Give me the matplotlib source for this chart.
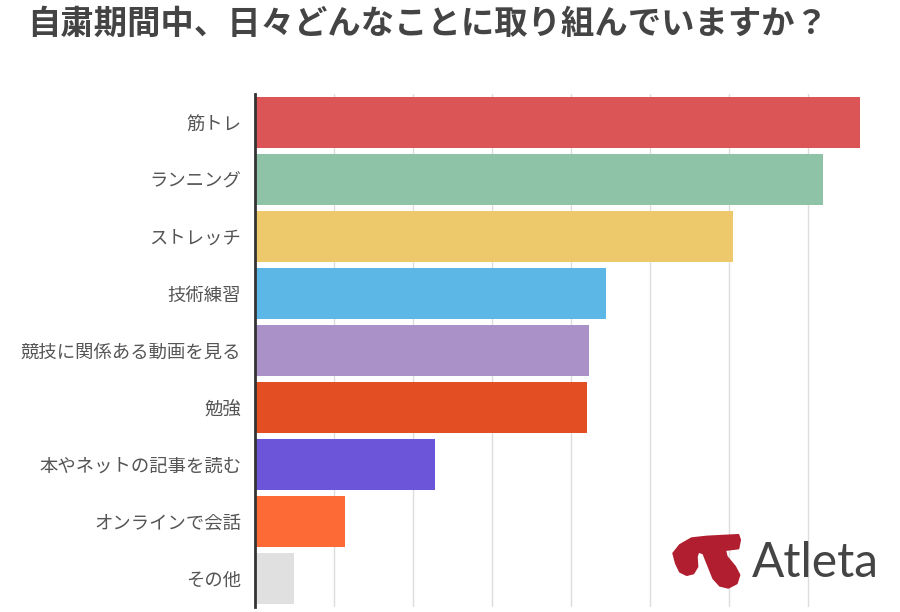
import matplotlib
matplotlib.use("Agg")
import matplotlib.pyplot as plt
from matplotlib.patches import Polygon

plt.rcParams['font.family'] = ['Noto Sans CJK JP', 'DejaVu Sans']

title = "自粛期間中、日々どんなことに取り組んでいますか？"
categories = ["筋トレ", "ランニング", "ストレッチ", "技術練習", "競技に関係ある動画を見る",
              "勉強", "本やネットの記事を読む", "オンラインで会話", "その他"]
values = [76.6, 71.8, 60.5, 44.4, 42.3, 42.0, 22.8, 11.4, 4.9]
colors = ["#DB5456", "#8EC3A7", "#EEC96B", "#5DB7E6", "#AA91C8",
          "#E34E23", "#6C55D8", "#FD6A36", "#E0E0E0"]

fig = plt.figure(figsize=(9, 6.12), dpi=100)
ax = fig.add_axes([255/900, 1-607/612, 1-255/900, (607-94)/612])

ypos = list(range(len(categories)))
ax.barh(ypos, values, height=0.9, color=colors, zorder=2)
ax.set_ylim(len(categories)-0.5, -0.5)
ax.set_xlim(0, 81.6)
ax.set_xticks([10, 20, 30, 40, 50, 60, 70])
ax.xaxis.grid(True, color="#DDDDDD", linewidth=1, zorder=0)
ax.tick_params(axis='x', length=0, labelbottom=False)
ax.set_yticks(ypos)
ax.set_yticklabels(categories, fontsize=13.2, color="#555555")
ax.tick_params(axis='y', length=0, pad=10)
for s in ['top', 'right', 'bottom']:
    ax.spines[s].set_visible(False)
ax.spines['left'].set_color("#333333")
ax.spines['left'].set_linewidth(2)
ax.spines['left'].set_zorder(3)

fig.text(27/900, 1-24/612, title, fontsize=24, fontweight='bold', color="#444444",
         ha='left', va='center')

# logo (decoration)
outline = [(40, 85), (60, 60), (95, 40), (140, 35), (235, 30), (240, 45), (235, 70),
           (195, 75), (200, 95), (225, 125), (238, 150), (230, 175), (205, 188),
           (180, 182), (160, 160), (140, 110), (130, 85), (115, 80), (110, 95),
           (112, 125), (100, 145), (80, 150), (60, 140), (48, 115)]
pts = [((660 + x/3)/900, 1 - (525 + y/3)/612) for x, y in outline]
logo = Polygon(pts, closed=True, transform=fig.transFigure,
               facecolor="#B01E2F", edgecolor="#B01E2F", linewidth=1.5,
               joinstyle='round', zorder=5)
fig.patches.append(logo)
fig.text(752/900, 1-577/612, "Atleta", fontsize=34.5, family=['Lato', 'DejaVu Sans'],
         fontweight='normal', color="#444444", ha='left', va='baseline')

fig.savefig("out.png", dpi=100)
